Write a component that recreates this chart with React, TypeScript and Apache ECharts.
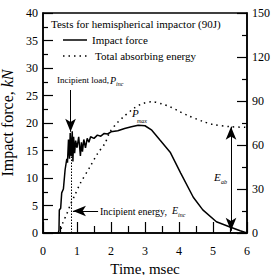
import React, { useEffect, useRef } from "react";
import * as echarts from "echarts";

const forceTime = [0, 0.45, 0.47, 0.48, 0.52, 0.55, 0.6, 0.65, 0.7, 0.72, 0.75, 0.78, 0.8, 0.83, 0.86, 0.88, 0.9, 0.93, 0.96, 1.0, 1.05, 1.1, 1.13, 1.16, 1.2, 1.25, 1.3, 1.35, 1.4, 1.5, 1.6, 1.7, 1.8, 1.9, 2.0, 2.2, 2.4, 2.6, 2.8, 3.0, 3.2, 3.44, 3.74, 4.05, 4.42, 4.7, 5.1, 5.5, 5.8, 6.0];
const forceValues = [0, 0, 0.5, 4.2, 4.5, 7.3, 8, 11.5, 13.5, 12.8, 17, 13.5, 18.2, 14, 18.5, 13, 17.5, 14.5, 16.8, 15.5, 17.5, 14, 16.5, 14.8, 17, 15.5, 17.2, 16.5, 17.5, 17.2, 17.8, 17.6, 18.1, 18, 18.4, 18.6, 19, 19.3, 19.6, 19.5, 18.7, 16.9, 14.7, 10.9, 6.5, 4.2, 2.05, 1.1, 0.4, 0];

const energyTime = [0.45, 0.5, 0.58, 0.7, 0.8, 0.94, 1.1, 1.38, 1.6, 1.82, 1.97, 2.18, 2.36, 2.7, 2.95, 3.2, 3.5, 3.74, 4.0, 4.23, 4.71, 5.0, 5.5, 6.0];
const energyValues = [0, 0.5, 6.8, 13, 19, 26, 34, 45, 54, 61, 69, 75, 79, 85.5, 88.4, 89.5, 88, 86, 83, 80.4, 76, 74, 72.5, 72];

const xTicks = { min: 0, max: 6, interval: 1 };
const forceTicks = { min: 0, max: 40, interval: 5 };
const energyTicks = { min: 0, max: 150, interval: 30 };

const FONT = "'Liberation Serif', 'DejaVu Serif', serif";

export default function App() {
  const ref = useRef<HTMLDivElement>(null);
  useEffect(() => {
    if (!ref.current) return;
    const chart = echarts.init(ref.current, undefined, { renderer: "svg" });
    const axisCommon = {
      axisLine: { show: true, lineStyle: { color: "#000", width: 1.5 } },
      axisTick: { show: true, inside: true, length: 10, lineStyle: { color: "#000", width: 1.2 } },
      minorTick: { show: true, splitNumber: 2, length: 5, lineStyle: { color: "#000", width: 1.2 } },
      splitLine: { show: false },
      axisLabel: { color: "#000", fontFamily: FONT, fontSize: 12 },
      nameTextStyle: { color: "#000", fontFamily: FONT, fontSize: 16 },
    };
    const txt = (x: number, y: number, text: string, size: number, italic = false) => ({
      type: "text",
      x,
      y,
      style: {
        text,
        fontFamily: FONT,
        fontSize: size,
        fontStyle: italic ? "italic" : "normal",
        font: `${italic ? "italic " : ""}${size}px ${FONT}`,
        fill: "#000",
        align: "left",
        verticalAlign: "middle",
      },
      silent: true,
    });
    chart.setOption({
      animation: false,
      backgroundColor: "#fff",
      textStyle: { fontFamily: FONT },
      grid: {
        left: 43, right: 30, top: 13, bottom: 42,
        outerBoundsMode: "none",
        containLabel: false,
        show: true, borderColor: "#000", borderWidth: 1.5,
      },
      xAxis: {
        type: "value",
        ...xTicks,
        ...axisCommon,
        axisTick: { ...axisCommon.axisTick, length: 11 },
        minorTick: { ...axisCommon.minorTick, length: 7 },
        axisLabel: { ...axisCommon.axisLabel, margin: 12 },
        name: "Time, msec",
        nameLocation: "middle",
        nameGap: 19,
        nameTextStyle: { ...axisCommon.nameTextStyle, fontSize: 15 },
      },
      yAxis: [
        {
          type: "value",
          ...forceTicks,
          ...axisCommon,
          axisLabel: { ...axisCommon.axisLabel, margin: 5 },
          name: "Impact force, {i|kN}",
          nameLocation: "middle",
          nameRotate: 90,
          nameGap: 21,
          nameTextStyle: {
            ...axisCommon.nameTextStyle,
            rich: { i: { fontStyle: "italic", fontFamily: FONT, fontSize: 16, color: "#000" } },
          },
        },
        {
          type: "value",
          position: "right",
          ...energyTicks,
          ...axisCommon,
          axisLabel: { ...axisCommon.axisLabel, margin: 5 },
          name: "Absorbing energy, {i|J}",
          nameLocation: "middle",
          nameRotate: 90,
          nameGap: 13,
          nameTextStyle: {
            ...axisCommon.nameTextStyle,
            fontSize: 15,
            rich: { i: { fontStyle: "italic", fontFamily: FONT, fontSize: 15, color: "#000" } },
          },
        },
      ],
      series: [
        {
          type: "line",
          yAxisIndex: 0,
          data: forceTime.map((t, i) => [t, forceValues[i]]),
          showSymbol: false,
          lineStyle: { color: "#000", width: 1.5 },
          silent: true,
          markLine: {
            silent: true,
            label: { show: false },
            symbol: ["none", "arrow"],
            symbolSize: [8, 13],
            lineStyle: { color: "#000", width: 1, type: "solid" },
            data: [
              [{ coord: [0.81, 26] }, { coord: [0.81, 18.4] }],
              [
                { coord: [0.84, 0], symbol: "none", lineStyle: { type: [1.5, 1.5], width: 1 } },
                { coord: [0.84, 14], symbol: "none" },
              ],
            ],
          },
        },
        {
          type: "line",
          yAxisIndex: 1,
          data: energyTime.map((t, i) => [t, energyValues[i]]),
          showSymbol: false,
          smooth: 0.3,
          lineStyle: { color: "#000", width: 1.5, type: [1.5, 4] },
          silent: true,
          markLine: {
            silent: true,
            label: { show: false },
            symbol: ["none", "arrow"],
            symbolSize: [8, 13],
            lineStyle: { color: "#000", width: 1, type: "solid" },
            data: [
              [{ coord: [1.62, 15] }, { coord: [0.88, 15] }],
              [
                { coord: [5.53, 72.5], symbol: "arrow" },
                { coord: [5.53, 1.5], symbol: "arrow" },
              ],
            ],
          },
        },
      ],
      graphic: [
        txt(51, 24, "Tests for hemispherical impactor (90J)", 11),
        { type: "line", shape: { x1: 63, y1: 40, x2: 87, y2: 40 }, style: { stroke: "#000", lineWidth: 1.5 }, silent: true },
        txt(92, 40, "Impact force", 11),
        { type: "line", shape: { x1: 63, y1: 56, x2: 87, y2: 56 }, style: { stroke: "#000", lineWidth: 1.5, lineDash: [1.5, 4] }, silent: true },
        txt(95, 56, "Total absorbing energy", 11),
        txt(57, 80, "Incipient load,", 9),
        txt(110, 80, "P", 10, true),
        txt(116, 84, "inc", 6, true),
        txt(132, 113, "P", 11, true),
        txt(137, 121, "max", 6, true),
        txt(100, 211, "Incipient energy,", 10),
        txt(172, 210, "E", 10, true),
        txt(178, 215, "inc", 6, true),
        txt(214, 177, "E", 11, true),
        txt(221, 182, "ab", 6, true),
      ],
    });
    return () => chart.dispose();
  }, []);
  return <div ref={ref} style={{ width: 277, height: 275, position: "absolute", left: 0, top: 0 }} />;
}
